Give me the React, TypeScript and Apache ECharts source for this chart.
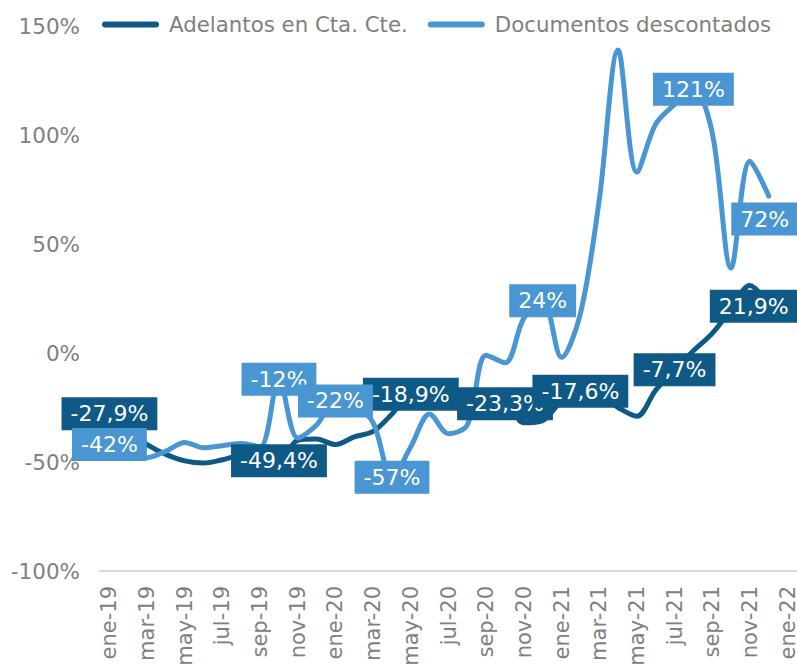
import React, { useEffect, useRef } from "react";
import * as echarts from "echarts";

const categories = [
  "ene-19", "feb-19", "mar-19", "abr-19", "may-19", "jun-19", "jul-19", "ago-19", "sep-19", "oct-19", "nov-19", "dic-19",
  "ene-20", "feb-20", "mar-20", "abr-20", "may-20", "jun-20", "jul-20", "ago-20", "sep-20", "oct-20", "nov-20", "dic-20",
  "ene-21", "feb-21", "mar-21", "abr-21", "may-21", "jun-21", "jul-21", "ago-21", "sep-21", "oct-21", "nov-21", "dic-21",
  "ene-22",
];

// Adelantos en Cta. Cte. (% var.)
const adelantos = [
  -27.9, -36, -42, -46.5, -49.5, -50.5, -49, -47, -47.5, -49.4, -40, -39.5,
  -42, -38.5, -36, -28, -18.9, -20, -22, -23, -24, -23.3, -32, -31,
  -22, -17.6, -19, -25, -29, -17, -7.7, 1, 9, 20, 31, 21.9,
];

// Documentos descontados (% var.)
const documentos = [
  -42, -46, -48, -45, -41, -43.5, -42.5, -41.5, -43, -12, -39, -33,
  -22, -24, -32, -57, -43, -28, -37, -33, -1, -4.5, 16, 24,
  -2, 18, 70, 139, 83, 105, 114, 121, 101, 39, 88, 72,
];

const adelantosLabelIdx = [0, 9, 16, 21, 25, 30, 35];
const documentosLabelIdx = [0, 9, 12, 15, 23, 31, 35];

const yTicks = { min: -100, max: 150, interval: 50 };

const DARK = "#0F5987";
const LIGHT = "#4A96D3";
const GRAY = "#808080";
const FONT = "DejaVu Sans";

export default function App() {
  const ref = useRef<HTMLDivElement>(null);

  useEffect(() => {
    document.body.style.margin = "0";
    if (!ref.current) return;
    const chart = echarts.init(ref.current, undefined, { renderer: "svg" });

    const fmtDark = (v: number) => v.toFixed(1).replace(".", ",") + "%";
    const fmtLight = (v: number) => Math.round(v) + "%";

    const labelBase = {
      show: true,
      position: "inside",
      color: "#ffffff",
      fontFamily: FONT,
      fontSize: 22,
      lineHeight: 25,
      padding: [4, 9, 4, 9],
      opacity: 1,
    };

    const lastIdx = adelantos.length - 1;

    const darkLabels = adelantosLabelIdx.map((i) => ({
      value: [i, adelantos[i]],
      label: {
        ...labelBase,
        backgroundColor: DARK,
        formatter: fmtDark(adelantos[i]),
        offset: i === lastIdx ? [-15, 1] : [0, 0],
      },
    }));
    const lightLabels = documentosLabelIdx.map((i) => ({
      value: [i, documentos[i]],
      label: {
        ...labelBase,
        backgroundColor: LIGHT,
        formatter: fmtLight(documentos[i]),
        offset: i === lastIdx ? [-4, 23] : [0, 0],
      },
    }));

    const legendIcon = "path://M3,0 L54,0 A3,3 0 0 1 54,6 L3,6 A3,3 0 0 1 3,0 Z";

    const labelSeries = (data: any[], z: number) => ({
      type: "scatter",
      data,
      symbol: "circle",
      symbolSize: 1,
      silent: true,
      clip: false,
      itemStyle: { color: "rgba(0,0,0,0)", opacity: 1 },
      emphasis: { disabled: true },
      z,
    });

    chart.setOption({
      animation: false,
      grid: { left: 100, right: 0, top: 26, bottom: 93, containLabel: false, outerBoundsMode: "none" },
      legend: {
        left: 97,
        top: 9,
        itemWidth: 57,
        itemHeight: 6,
        itemGap: 20,
        data: [
          { name: "Adelantos en Cta. Cte.", icon: legendIcon },
          { name: "Documentos descontados", icon: legendIcon },
        ],
        textStyle: { color: GRAY, fontFamily: FONT, fontSize: 21.3, padding: [0, 0, 0, 5] },
      },
      xAxis: [
        {
          type: "category",
          data: categories,
          boundaryGap: true,
          axisLine: { show: false },
          axisTick: { show: false },
          axisLabel: {
            interval: 1,
            rotate: 90,
            margin: 15,
            color: GRAY,
            fontFamily: FONT,
            fontSize: 21,
          },
        },
        {
          type: "category",
          data: categories,
          position: "bottom",
          axisLine: { show: true, onZero: true, lineStyle: { color: "#D9D9D9", width: 2 } },
          axisTick: { show: false },
          axisLabel: { show: false },
        },
      ],
      yAxis: {
        type: "value",
        min: yTicks.min,
        max: yTicks.max,
        interval: yTicks.interval,
        axisLine: { show: false },
        axisTick: { show: false },
        splitLine: { show: false },
        axisLabel: {
          formatter: (v: number) => v + "%",
          color: GRAY,
          fontFamily: FONT,
          fontSize: 21.5,
          margin: 20,
        },
      },
      series: [
        {
          name: "Adelantos en Cta. Cte.",
          type: "line",
          data: adelantos,
          smooth: 0.33,
          showSymbol: false,
          symbol: "none",
          color: DARK,
          lineStyle: { color: DARK, width: 5, cap: "round", join: "round" },
          z: 2,
        },
        {
          name: "Documentos descontados",
          type: "line",
          data: documentos,
          smooth: 0.33,
          showSymbol: false,
          symbol: "none",
          color: LIGHT,
          lineStyle: { color: LIGHT, width: 5, cap: "round", join: "round" },
          z: 3,
        },
        labelSeries(darkLabels, 10),
        labelSeries(lightLabels, 11),
      ],
    });

    return () => chart.dispose();
  }, []);

  return (
    <div
      ref={ref}
      style={{ position: "absolute", left: 0, top: 0, width: 797, height: 664 }}
    />
  );
}
